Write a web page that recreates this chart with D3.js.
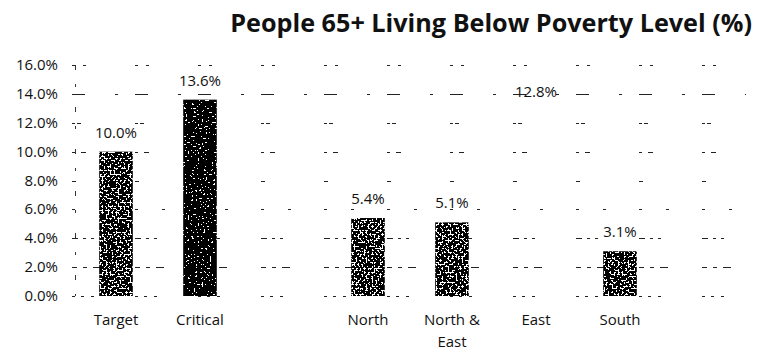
<!DOCTYPE html>
<html>
<head>
<meta charset="utf-8">
<script src="https://cdn.jsdelivr.net/npm/d3@7"></script>
<style>
  html, body { margin: 0; padding: 0; background: #fff; }
  svg { display: block; }
  text { font-family: "Open Sans", Lato, sans-serif; fill: #111; }
</style>
</head>
<body>
<svg id="chart" width="772" height="350"></svg>
<script>
// Share of people aged 65+ living below the poverty level, by area
const categories = ["Target", "Critical", "", "North", "North & East", "East", "South", ""];
const values     = [10.0, 13.6, null, 5.4, 5.1, 12.8, 3.1, null];
const yTicks     = [0, 2, 4, 6, 8, 10, 12, 14, 16];
const titleText  = "People 65+ Living Below Poverty Level (%)";

// Bar texture per category: "light" stipple, "dark" stipple, or none (blank bar)
const barTexture = {"Target": "light", "Critical": "dark", "North": "light",
                    "North & East": "light", "East": "none", "South": "light"};

// Each gridline is drawn with its own broken dash rhythm
const gridDash = {
  0: "3,6,3,7,3,41", 2: "5,6,4,6,8,34", 4: "6,5,3,5,3,41", 6: "3,24,3,33",
  8: "4,59", 10: "3,6,5,49", 12: "3,2,4,54", 14: "13,30,3,17", 16: "3,8,3,49"
};

const svg = d3.select("#chart");
const margin = {left: 74, right: 26, top: 65, bottom: 54};
const W = 772, H = 350;

const x = d3.scaleBand()
  .domain(d3.range(categories.length))
  .range([margin.left, W - margin.right])
  .paddingInner(0.6)
  .paddingOuter(0.3);

const y = d3.scaleLinear().domain([0, 16]).range([H - margin.bottom, margin.top]);

// Stipple filters: white speckles punched out of a black fill
const defs = svg.append("defs");
function stipple(id, threshold, seed) {
  const n = 40, cut = Math.round(threshold * n);
  const table = d3.range(n).map(i => (i >= cut ? 1 : 0)).join(" ");
  const f = defs.append("filter").attr("id", id)
    .attr("x", 0).attr("y", 0).attr("width", 1).attr("height", 1)
    .attr("color-interpolation-filters", "sRGB");
  f.append("feTurbulence").attr("type", "fractalNoise")
    .attr("baseFrequency", 0.5).attr("numOctaves", 2).attr("seed", seed).attr("result", "noise");
  f.append("feColorMatrix").attr("in", "noise").attr("type", "matrix")
    .attr("values", "0 0 0 0 1  0 0 0 0 1  0 0 0 0 1  1 0 0 0 0").attr("result", "white");
  const ct = f.append("feComponentTransfer").attr("in", "white").attr("result", "specks");
  ct.append("feFuncA").attr("type", "discrete").attr("tableValues", table);
  f.append("feComposite").attr("in", "specks").attr("in2", "SourceAlpha")
    .attr("operator", "in").attr("result", "clipped");
  const m = f.append("feMerge");
  m.append("feMergeNode").attr("in", "SourceGraphic");
  m.append("feMergeNode").attr("in", "clipped");
}
stipple("stipple-light", 0.55, 7);
stipple("stipple-dark", 0.68, 11);

// Gridlines
svg.append("g").selectAll("line")
  .data(yTicks)
  .join("line")
  .attr("x1", margin.left - 2)
  .attr("x2", W - margin.right)
  .attr("y1", d => Math.round(y(d)) + 0.5)
  .attr("y2", d => Math.round(y(d)) + 0.5)
  .attr("stroke", "#222")
  .attr("stroke-width", 1.2)
  .attr("stroke-dasharray", d => gridDash[d]);

// Broken vertical axis line
svg.append("line")
  .attr("x1", margin.left + 1.5).attr("x2", margin.left + 1.5)
  .attr("y1", y(16)).attr("y2", y(0))
  .attr("stroke", "#333").attr("stroke-width", 1)
  .attr("stroke-dasharray", "5,14,3,20");

// Y tick labels
svg.append("g").selectAll("text")
  .data(yTicks)
  .join("text")
  .attr("x", 58)
  .attr("y", d => y(d) + 5)
  .attr("text-anchor", "end")
  .attr("font-size", 15)
  .text(d => d3.format(".1f")(d) + "%");

// Bars
const barData = categories.map((c, i) => ({c, i, v: values[i]})).filter(d => d.v != null);
svg.append("g").selectAll("rect")
  .data(barData)
  .join("rect")
  .attr("x", d => x(d.i))
  .attr("width", x.bandwidth())
  .attr("y", d => y(d.v))
  .attr("height", d => y(0) - y(d.v))
  .attr("fill", d => barTexture[d.c] === "none" ? "none" : "#000")
  .attr("filter", d => barTexture[d.c] === "none" ? null : `url(#stipple-${barTexture[d.c]})`);

// Value labels
svg.append("g").selectAll("text")
  .data(barData)
  .join("text")
  .attr("x", d => x(d.i) + x.bandwidth() / 2)
  .attr("y", d => y(d.v) - 14)
  .attr("text-anchor", "middle")
  .attr("font-size", 15)
  .text(d => d3.format(".1f")(d.v) + "%");

// Category labels (wrapped after "&")
const cat = svg.append("g").selectAll("text")
  .data(categories.map((c, i) => ({c, i})).filter(d => d.c))
  .join("text")
  .attr("x", d => x(d.i) + x.bandwidth() / 2)
  .attr("y", 325)
  .attr("text-anchor", "middle")
  .attr("font-size", 15);
cat.each(function(d) {
  const lines = d.c.includes("& ") ? d.c.replace("& ", "&\n").split("\n") : [d.c];
  d3.select(this).selectAll("tspan")
    .data(lines)
    .join("tspan")
    .attr("x", x(d.i) + x.bandwidth() / 2)
    .attr("dy", (l, k) => k === 0 ? 0 : 22)
    .text(l => l);
});

// Title, sized so that it spans the space right of the first bar
const title = svg.append("text")
  .attr("x", 752)
  .attr("y", 32)
  .attr("text-anchor", "end")
  .attr("font-family", "Lato, 'Open Sans', sans-serif")
  .attr("font-size", 28)
  .attr("font-weight", "bold")
  .text(titleText);
const natural = title.node().getComputedTextLength();
title.attr("font-size", Math.min(30, 28 * 522 / natural));
</script>
</body>
</html>
